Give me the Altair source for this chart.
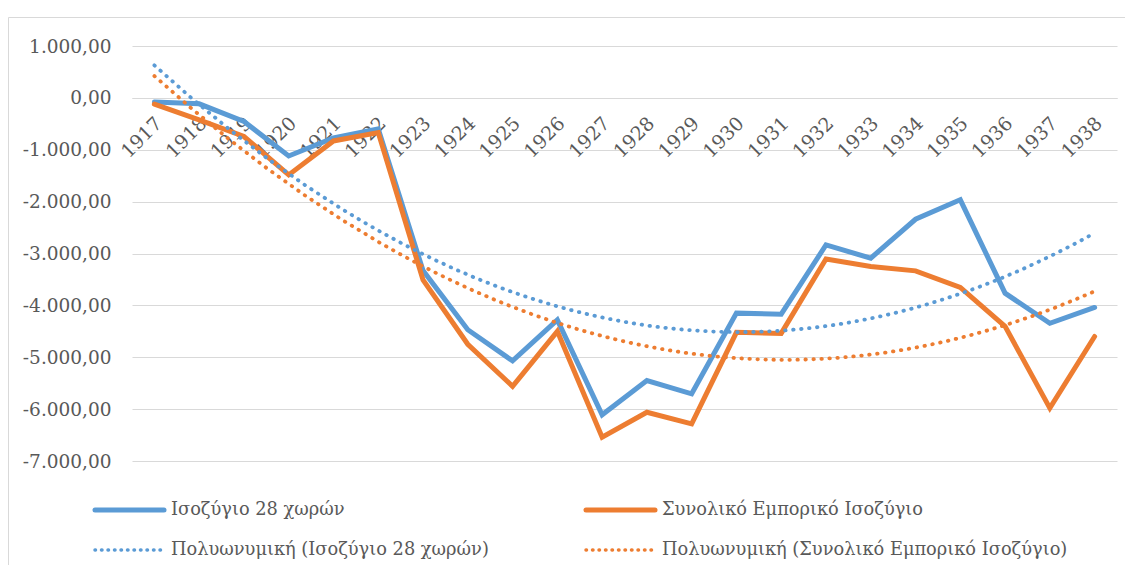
import altair as alt
import pandas as pd

# ---- data ----
years = list(range(1917, 1939))
balance_28 = [-80, -115, -455, -1120, -770, -600, -3330, -4470, -5070, -4280, -6110,
              -5450, -5705, -4150, -4170, -2835, -3090, -2340, -1965, -3765, -4345, -4040]
total_balance = [-120, -425, -745, -1485, -830, -670, -3510, -4750, -5560, -4500, -6540,
                 -6060, -6285, -4520, -4540, -3105, -3250, -3335, -3655, -4405, -5980, -4600]
series_names = ["Ισοζύγιο 28 χωρών", "Συνολικό Εμπορικό Ισοζύγιο"]
trend_names = ["Πολυωνυμική (Ισοζύγιο 28 χωρών)",
               "Πολυωνυμική (Συνολικό Εμπορικό Ισοζύγιο)"]
y_ticks = list(range(-7000, 1001, 1000))
colors = ["#5B9BD5", "#ED7D31"]

df = pd.DataFrame({
    "year": years * 2,
    "value": balance_28 + total_balance,
    "series": [series_names[0]] * len(years) + [series_names[1]] * len(years),
})

FONT = "DejaVu Serif"
TXT = "#595959"
GRID = "#d9d9d9"
W, H = 985, 415

color_scale = alt.Scale(domain=series_names, range=colors)

x_enc = alt.X(
    "year:Q",
    scale=alt.Scale(domain=[1916.5, 1938.5], nice=False, zero=False),
    axis=alt.Axis(values=years, format="d", labelAngle=-45, labelAlign="right",
                  labelBaseline="middle", offset=-(H - 52), domainColor=GRID,
                  domainWidth=1, ticks=False, tickSize=0, grid=False,
                  labelPadding=22, labelOffset=4, labelFont=FONT, labelFontSize=19,
                  labelColor=TXT, title=None, labelOverlap=False),
)
y_enc = alt.Y(
    "value:Q",
    scale=alt.Scale(domain=[-7000, 1000], nice=False, zero=False),
    axis=alt.Axis(values=y_ticks, format=",.2f", grid=True, gridColor=GRID,
                  gridWidth=1, domain=False, ticks=False, tickSize=0,
                  labelPadding=21, labelFont=FONT, labelFontSize=18.5,
                  labelColor=TXT, title=None),
)

base = alt.Chart(df)

lines = base.mark_line(strokeWidth=5, strokeJoin="miter", strokeCap="round").encode(
    x=x_enc, y=y_enc,
    color=alt.Color("series:N", scale=color_scale, legend=None),
)

trends = base.transform_regression(
    "year", "value", groupby=["series"], method="poly", order=2, extent=[1917, 1938]
).mark_line(strokeWidth=3.8, strokeDash=[0.5, 7.5], strokeCap="round").encode(
    x=alt.X("year:Q"), y=alt.Y("value:Q"),
    color=alt.Color("series:N", scale=color_scale, legend=None),
)

one = alt.Data(values=[{}])

border = alt.Chart(one).mark_rect(fillOpacity=0, stroke=GRID, strokeWidth=1).encode(
    x=alt.value(-123.5), x2=alt.value(1100), y=alt.value(-28.5), y2=alt.value(700)
)

legend_layers = []
leg_items = [
    (series_names[0], colors[0], None, -37, 464),
    (series_names[1], colors[1], None, 454, 464),
    (trend_names[0], colors[0], [0.5, 6], -37, 504),
    (trend_names[1], colors[1], [0.5, 6], 454, 504),
]
for label, col, dash, lx, ly in leg_items:
    kw = dict(color=col, strokeCap="round")
    if dash is None:
        kw["strokeWidth"] = 5
    else:
        kw["strokeWidth"] = 3.5
        kw["strokeDash"] = dash
    legend_layers.append(
        alt.Chart(one).mark_rule(**kw).encode(
            x=alt.value(lx), x2=alt.value(lx + 69), y=alt.value(ly)
        )
    )
    legend_layers.append(
        alt.Chart(one).mark_text(align="left", baseline="middle", font=FONT,
                                 fontSize=17.8, color=TXT).encode(
            x=alt.value(lx + 76), y=alt.value(ly), text=alt.value(label)
        )
    )

chart = alt.layer(border, lines, trends, *legend_layers).properties(
    width=W, height=H,
    autosize=alt.AutoSizeParams(type="none"),
    padding={"left": 124, "top": 38, "right": 8, "bottom": 104},
).configure(
    locale={"number": {"decimal": ",", "thousands": ".", "grouping": [3],
                       "currency": ["", "€"], "minus": "-"}}
).configure_view(stroke=None)

chart.save("out.html", embed_options={"renderer": "svg", "actions": False})
